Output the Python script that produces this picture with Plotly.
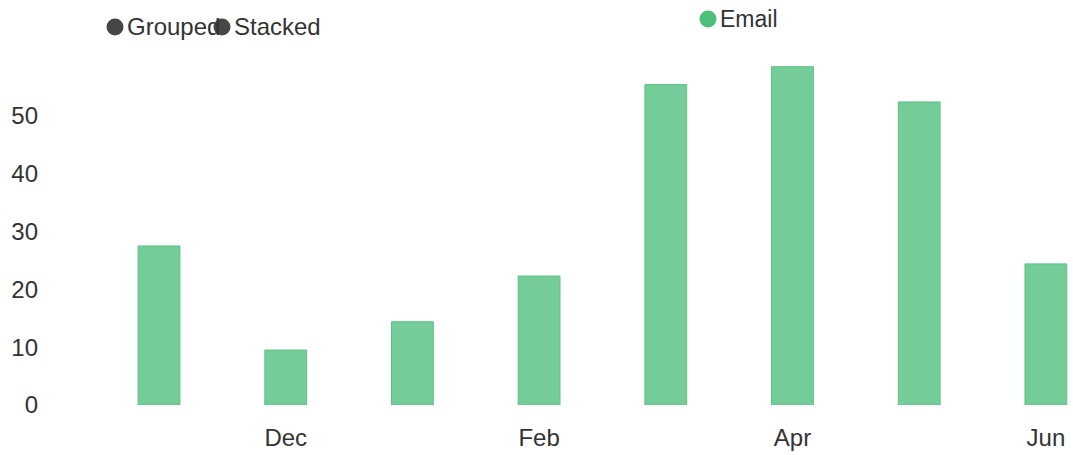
import plotly.graph_objects as go

months = ["Nov", "Dec", "Jan", "Feb", "Mar", "Apr", "May", "Jun"]
email = [27.5, 9.5, 14.4, 22.3, 55.4, 58.5, 52.4, 24.4]
x_tick_labels = ["Dec", "Feb", "Apr", "Jun"]
y_ticks = [0, 10, 20, 30, 40, 50]
series_name = "Email"
toggle_labels = ["Grouped", "Stacked"]

W, H = 1073, 455
L, R, T, B = 45, 0, 58, 50
pw, ph = W - L - R, H - T - B

def px(x):
    return (x - L) / pw

def py(y):
    return (H - B - y) / ph

font = "Liberation Sans, Arial, sans-serif"

fig = go.Figure()
fig.add_trace(go.Bar(
    x=months, y=email, name=series_name, width=0.33,
    marker=dict(color="#74CD99", line=dict(color="#5CC285", width=1)),
    showlegend=False,
))

shapes = []
annotations = []

def legend_item(cx, cy, text, color, size):
    shapes.append(dict(type="circle", xref="paper", yref="paper",
                       xsizemode="pixel", ysizemode="pixel",
                       xanchor=px(cx), yanchor=py(cy),
                       x0=-8.5, x1=8.5, y0=-8.5, y1=8.5,
                       fillcolor=color, line=dict(width=0)))
    annotations.append(dict(xref="paper", yref="paper", x=px(cx + 11), y=py(cy),
                            xanchor="left", yanchor="middle", text=text,
                            showarrow=False, borderpad=0,
                            font=dict(family=font, size=size, color="#333333")))

legend_item(115, 27, toggle_labels[0], "#464646", 24)
legend_item(222, 27, toggle_labels[1], "#464646", 24)
legend_item(708, 19, series_name, "#4CBF7A", 23)

fig.update_layout(
    width=W, height=H,
    margin=dict(l=L, r=R, t=T, b=B),
    plot_bgcolor="white", paper_bgcolor="white",
    font=dict(family=font, size=24, color="#333333"),
    shapes=shapes, annotations=annotations,
    xaxis=dict(type="category", range=[-0.9, 7.214],
               tickvals=["Dec", "Feb", "Apr", "Jun"], ticktext=x_tick_labels,
               showgrid=False, zeroline=False, showline=False, ticks="",
               ticklabelstandoff=16),
    yaxis=dict(range=[0, 60], tickvals=y_ticks, showgrid=False,
               zeroline=False, showline=False, ticks="", ticklabelstandoff=6),
    showlegend=False,
)

fig.write_html(
    "out.html",
    config={"displayModeBar": False},
    post_script="document.body.style.margin='0';document.body.style.overflow='hidden';",
)
